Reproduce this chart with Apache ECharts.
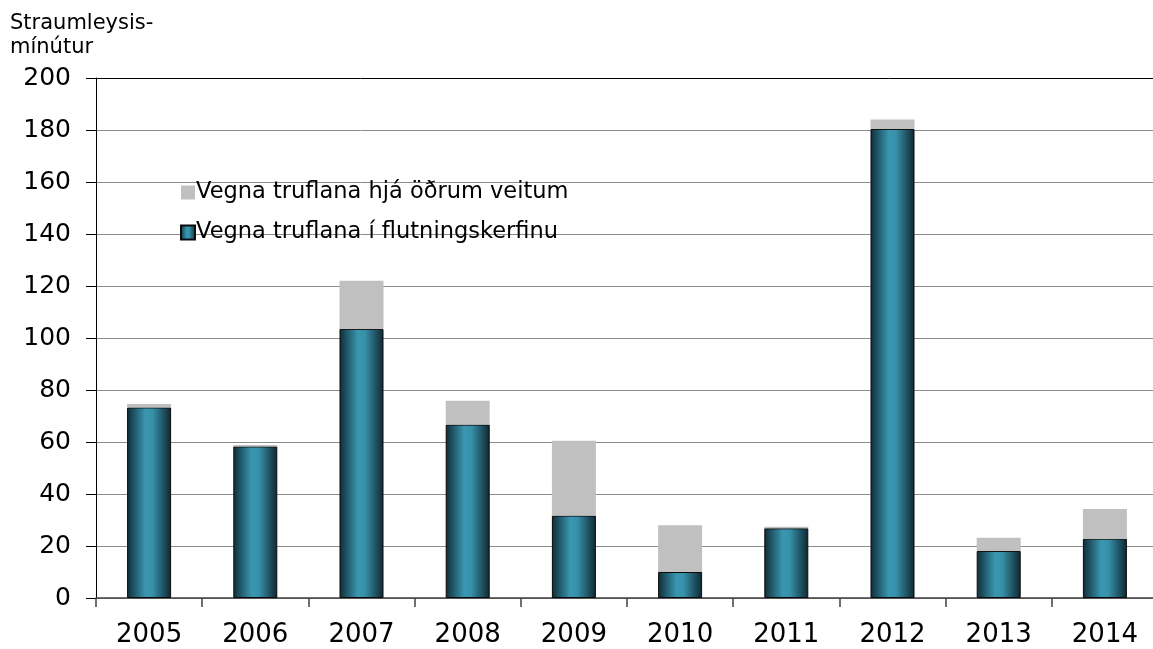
<!DOCTYPE html>
<html>
<head>
<meta charset="utf-8">
<script src="https://cdn.jsdelivr.net/npm/echarts@6/dist/echarts.min.js"></script>
<style>
  html, body { margin: 0; padding: 0; background: #fff; }
  #main { width: 1153px; height: 649px; }
</style>
</head>
<body>
<div id="main"></div>
<script>
// ár
var years = ['2005', '2006', '2007', '2008', '2009', '2010', '2011', '2012', '2013', '2014'];
// mínútur vegna truflana í flutningskerfinu
var flutningskerfi = [73.3, 58.3, 103.5, 66.7, 31.7, 10, 26.8, 180.4, 18.1, 22.8];
// mínútur vegna truflana hjá öðrum veitum
var adrarVeitur = [1.3, 0.5, 18.5, 9.2, 28.8, 18, 0.6, 3.6, 5.1, 11.4];
var seriesNames = ['Vegna truflana hjá öðrum veitum', 'Vegna truflana í flutningskerfinu'];
var yTicks = [0, 20, 40, 60, 80, 100, 120, 140, 160, 180, 200];

var font = 'DejaVu Sans, Verdana, sans-serif';

var tealFill = new echarts.graphic.LinearGradient(0, 0, 1, 0, [
    { offset: 0, color: '#0f2c37' },
    { offset: 0.42, color: '#3a97b1' },
    { offset: 0.58, color: '#3790a9' },
    { offset: 1, color: '#0e2731' }
]);

// efsta línan (200) er svört, hinar gráar
var gridColors = yTicks.map(function (v) { return v === 200 ? '#000' : '#8c8c8c'; });

var chart = echarts.init(document.getElementById('main'));
chart.setOption({
    animation: false,
    backgroundColor: '#fff',
    title: {
        text: 'Straumleysis-\nmínútur',
        left: 5,
        top: 7,
        textStyle: { fontFamily: font, fontSize: 21, fontWeight: 'normal', color: '#000', lineHeight: 24 }
    },
    legend: {
        orient: 'vertical',
        left: 175,
        top: 176,
        itemGap: 17,
        itemWidth: 14,
        itemHeight: 14,
        icon: 'rect',
        data: seriesNames,
        textStyle: { fontFamily: font, fontSize: 22.5, color: '#000', padding: [0, 0, 0, -4] }
    },
    grid: { left: 96, width: 1062, top: 78, bottom: 51, containLabel: false, outerBoundsMode: 'none' },
    xAxis: {
        type: 'category',
        data: years,
        axisLine: { lineStyle: { color: '#404040', width: 1.5 } },
        axisTick: { show: true, interval: 0, length: 9, lineStyle: { color: '#404040', width: 1.5 } },
        axisLabel: { fontFamily: font, fontSize: 26, color: '#000', margin: 24 }
    },
    yAxis: {
        type: 'value',
        min: 0,
        max: 200,
        interval: 20,
        axisLine: { show: true, lineStyle: { color: '#000', width: 1 } },
        axisTick: { show: true, inside: false, length: 10, lineStyle: { color: '#000' } },
        axisLabel: { fontFamily: font, fontSize: 25, color: '#000', margin: 25 },
        splitLine: { show: true, lineStyle: { color: gridColors, width: 1 } }
    },
    series: [
        {
            name: seriesNames[1],
            type: 'bar',
            stack: 'total',
            barWidth: 44,
            data: flutningskerfi,
            itemStyle: { color: tealFill, borderColor: '#0a0a0a', borderWidth: 1 }
        },
        {
            name: seriesNames[0],
            type: 'bar',
            stack: 'total',
            barWidth: 44,
            data: adrarVeitur,
            itemStyle: { color: '#c0c0c0', borderWidth: 0 }
        }
    ]
});
</script>
</body>
</html>
